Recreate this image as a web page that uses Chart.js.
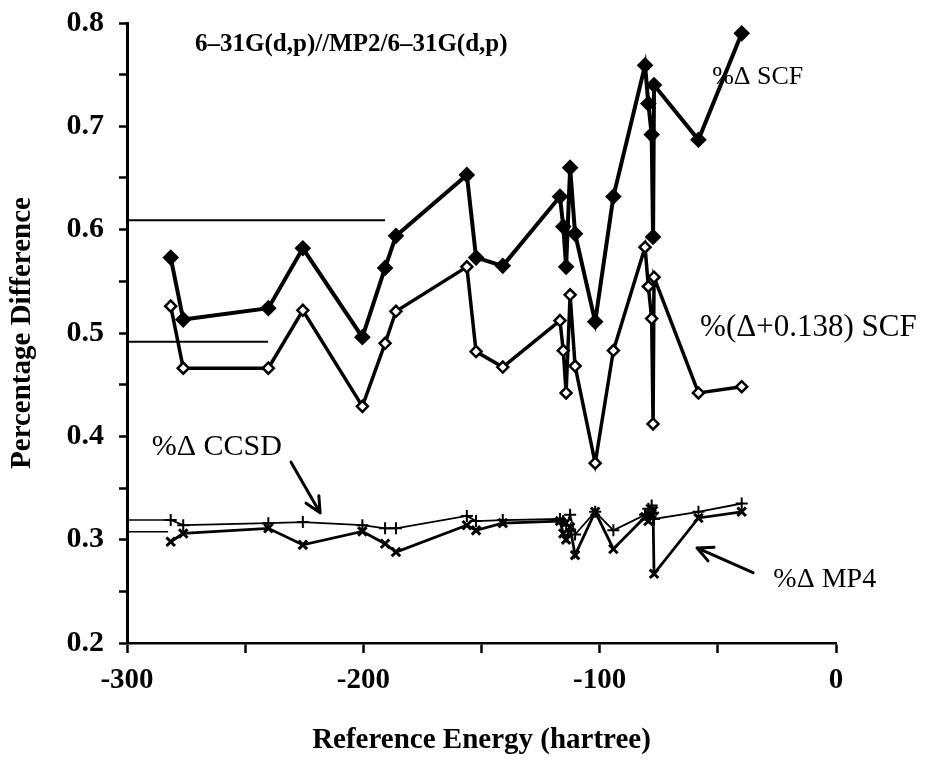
<!DOCTYPE html>
<html>
<head>
<meta charset="utf-8">
<script src="https://cdn.jsdelivr.net/npm/chart.js@4.4.1/dist/chart.umd.min.js"></script>
<style>
html, body { margin: 0; padding: 0; background: #fff; }
</style>
</head>
<body>
<canvas id="chart" width="933" height="781"></canvas>
<script>
// reference energies (hartree), one per molecule
const energies = [-281.5, -276.2, -240.2, -225.6, -200.4, -190.8, -186.2, -156.2, -152.3, -141.0,
  -116.8, -115.4, -114.2, -112.5, -110.4, -101.9, -94.2, -80.8, -79.4, -78.0, -77.4, -77.0, -58.2, -39.9];
const scfDelta = [0.573, 0.513, 0.524, 0.582, 0.496, 0.563, 0.594, 0.653, 0.573, 0.565,
  0.632, 0.603, 0.564, 0.660, 0.596, 0.511, 0.632, 0.759, 0.722, 0.692, 0.593, 0.740, 0.687, 0.790];
const scfShifted = [0.526, 0.466, 0.466, 0.522, 0.429, 0.490, 0.521, 0.564, 0.482, 0.467,
  0.512, 0.483, 0.442, 0.537, 0.468, 0.374, 0.483, 0.583, 0.545, 0.514, 0.412, 0.554, 0.442, 0.448];
const ccsdDelta = [0.319, 0.314, 0.316, 0.317, 0.314, 0.311, 0.311, 0.323, 0.318, 0.319,
  0.320, 0.318, 0.314, 0.324, 0.305, 0.327, 0.309, 0.324, 0.330, 0.333, 0.326, 0.320, 0.327, 0.335];
const mp4Delta = [0.298, 0.306, 0.311, 0.295, 0.308, 0.296, 0.288, 0.314, 0.309, 0.316,
  0.318, 0.306, 0.300, 0.312, 0.285, 0.327, 0.291, 0.322, 0.318, 0.325, 0.328, 0.267, 0.321, 0.327];

// short horizontal mean lines drawn from the left axis
const meanLevels = [0.609, 0.4915, 0.319, 0.3076];
const meanEnds = [-190.8, -240.3, -280.5, -282.6];

const xTickLabels = [-300, -200, -100, 0];
const yTickLabels = [0.2, 0.3, 0.4, 0.5, 0.6, 0.7, 0.8];

function pts(ys) {
  return ys.map((y, i) => ({x: energies[i], y: y}));
}

const serif = '"Liberation Serif", "DejaVu Serif", serif';

const notes = [
  {text: '6–31G(d,p)//MP2/6–31G(d,p)', x: -271.2, y: 0.779, font: 'bold 25px ' + serif},
  {text: '%Δ SCF', x: -52.4, y: 0.748, font: '26px ' + serif},
  {text: '%(Δ+0.138) SCF', x: -57.5, y: 0.505, font: '31px ' + serif},
  {text: '%Δ CCSD', x: -289.5, y: 0.390, font: '30px ' + serif},
  {text: '%Δ MP4', x: -26.5, y: 0.261, font: '28px ' + serif}
];
const arrows = [
  {from: [-230.6, 0.375], to: [-218.3, 0.326]},
  {from: [-35.1, 0.268], to: [-58.8, 0.292]}
];

const notesPlugin = {
  id: 'notes',
  afterDraw(chart) {
    const ctx = chart.ctx, xs = chart.scales.x, ys = chart.scales.y;
    ctx.save();
    ctx.fillStyle = '#000';
    ctx.textBaseline = 'middle';
    ctx.textAlign = 'left';
    notes.forEach(n => {
      ctx.font = n.font;
      ctx.fillText(n.text, xs.getPixelForValue(n.x), ys.getPixelForValue(n.y));
    });
    ctx.strokeStyle = '#000';
    ctx.lineWidth = 3;
    ctx.lineCap = 'round';
    arrows.forEach(a => {
      const x1 = xs.getPixelForValue(a.from[0]), y1 = ys.getPixelForValue(a.from[1]);
      const x2 = xs.getPixelForValue(a.to[0]), y2 = ys.getPixelForValue(a.to[1]);
      const ang = Math.atan2(y2 - y1, x2 - x1);
      ctx.beginPath();
      ctx.moveTo(x1, y1);
      ctx.lineTo(x2, y2);
      [-0.45, 0.45].forEach(d => {
        ctx.moveTo(x2, y2);
        ctx.lineTo(x2 - 17 * Math.cos(ang + d), y2 - 17 * Math.sin(ang + d));
      });
      ctx.stroke();
    });
    ctx.restore();
  }
};

const meanSets = meanLevels.map((v, i) => ({
  data: [{x: -300, y: v}, {x: meanEnds[i], y: v}],
  borderColor: '#000',
  borderWidth: i < 2 ? 2 : 1.5,
  pointRadius: 0
}));

new Chart(document.getElementById('chart'), {
  type: 'line',
  data: {
    datasets: [
      {
        label: '%Δ SCF',
        data: pts(scfDelta),
        borderColor: '#000',
        borderWidth: 4,
        pointStyle: 'rectRot',
        pointRadius: 5.5,
        pointBackgroundColor: '#000',
        pointBorderColor: '#000'
      },
      {
        label: '%(Δ+0.138) SCF',
        data: pts(scfShifted),
        borderColor: '#000',
        borderWidth: 3.5,
        pointStyle: 'rectRot',
        pointRadius: 5.5,
        pointBorderWidth: 2.5,
        pointBackgroundColor: '#fff',
        pointBorderColor: '#000'
      },
      {
        label: '%Δ CCSD',
        data: pts(ccsdDelta),
        borderColor: '#000',
        borderWidth: 1.8,
        pointStyle: 'cross',
        pointRadius: 6,
        pointBorderWidth: 2,
        pointBorderColor: '#000'
      },
      {
        label: '%Δ MP4',
        data: pts(mp4Delta),
        borderColor: '#000',
        borderWidth: 2.8,
        pointStyle: 'crossRot',
        pointRadius: 6,
        pointBorderWidth: 3,
        pointBorderColor: '#000'
      }
    ].concat(meanSets)
  },
  options: {
    responsive: false,
    animation: false,
    layout: {padding: {top: 23, right: 97, bottom: 0, left: 0}},
    plugins: {
      legend: {display: false},
      tooltip: {enabled: false}
    },
    elements: {line: {tension: 0}},
    scales: {
      x: {
        type: 'linear',
        min: -300,
        max: 0,
        afterFit: s => { s.height = 138; s.paddingLeft = 0; s.paddingRight = 0; },
        ticks: {
          stepSize: 50,
          autoSkip: false,
          maxRotation: 0,
          padding: 10,
          color: '#000',
          font: {family: serif, size: 29, weight: 'bold'},
          callback: v => xTickLabels.includes(v) ? String(v) : ''
        },
        grid: {drawOnChartArea: false, tickLength: 10, tickWidth: 2.5, color: '#000'},
        border: {color: '#000', width: 2.5},
        title: {
          display: true,
          text: 'Reference Energy (hartree)',
          color: '#000',
          font: {family: serif, size: 29, weight: 'bold'},
          padding: {top: 0, bottom: 23}
        }
      },
      y: {
        min: 0.2,
        max: 0.8,
        afterFit: s => { s.width = 127; s.paddingTop = 0; s.paddingBottom = 0; },
        ticks: {
          stepSize: 0.05,
          autoSkip: false,
          padding: 15,
          color: '#000',
          font: {family: serif, size: 30, weight: 'bold'},
          callback: v => {
            const hit = yTickLabels.find(t => Math.abs(t - v) < 1e-6);
            return hit !== undefined ? hit.toFixed(1) : '';
          }
        },
        grid: {drawOnChartArea: false, tickLength: 8, tickWidth: 2.5, color: '#000'},
        border: {color: '#000', width: 3},
        title: {
          display: true,
          text: 'Percentage Difference',
          color: '#000',
          font: {family: serif, size: 29, weight: 'bold'},
          padding: {top: 5, bottom: 0}
        }
      }
    }
  },
  plugins: [notesPlugin]
});
</script>
</body>
</html>
